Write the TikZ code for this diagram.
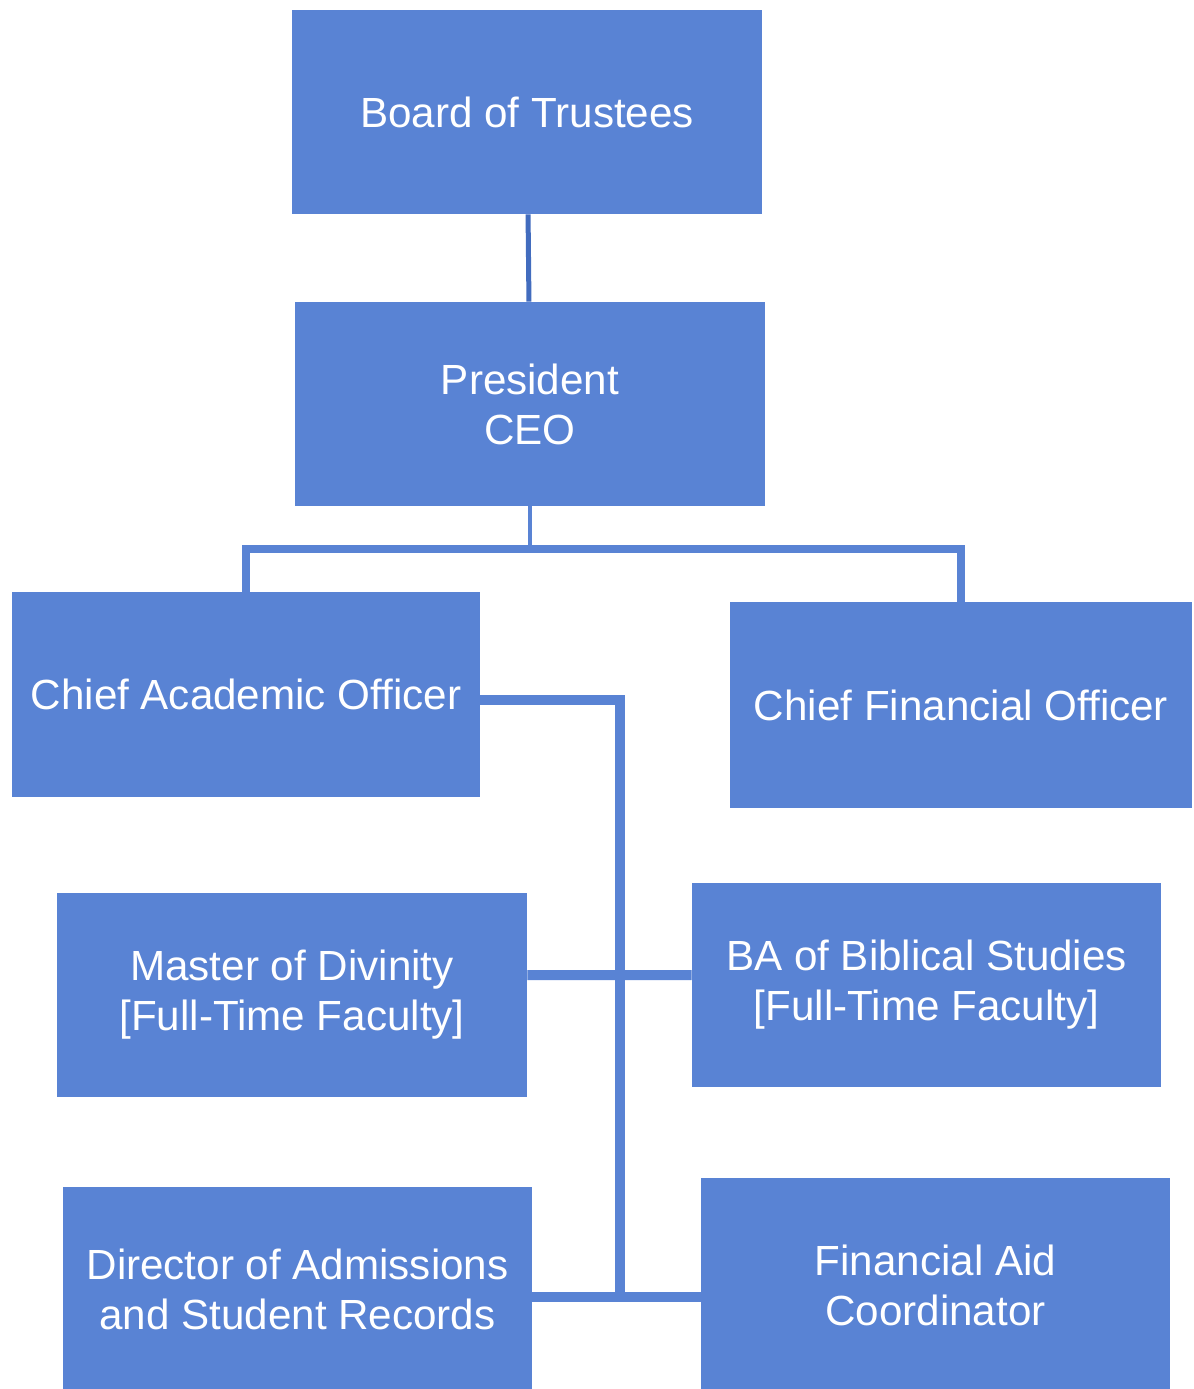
\documentclass[tikz,border=0pt]{standalone}
\usepackage{fontspec}
\setmainfont{Liberation Sans}
\usepackage{xcolor}
\usepackage{tikz}
\usetikzlibrary{positioning, calc}

\definecolor{boxblue}{RGB}{89,131,212}
\definecolor{lineblue}{RGB}{66,108,190}

\begin{document}
\begin{tikzpicture}[node distance=2cm,
  orgbox/.style={rectangle, fill=boxblue, text=white, text centered, align=center, inner sep=0pt, minimum width=9.4cm, minimum height=4.08cm, font=\fontsize{24}{28.5}\selectfont},
  tree/.style={draw=boxblue, line width=0.16cm},
  spine/.style={draw=boxblue, line width=0.2cm}]
\useasboundingbox (0,0) rectangle (23.86,-27.78);

\node (board)[orgbox] at (10.54,-2.24) {Board of Trustees};

\node (pres)[orgbox, below of = board, xshift=0.06cm, yshift=-3.84cm] {President\\CEO};

\node (cao)[orgbox, below of = pres, xshift=-5.68cm, yshift=-3.81cm, minimum width=9.36cm, minimum height=4.1cm] {Chief Academic Officer};
\node (cfo)[orgbox, right of = cao, xshift=12.3cm, yshift=-0.21cm, minimum width=9.24cm, minimum height=4.12cm] {Chief Financial Officer};

\node (mdiv)[orgbox, below of = cao, xshift=0.92cm, yshift=-4.01cm] {Master of Divinity\\{}[Full-Time Faculty]};
\node (ba)[orgbox, below of = cfo, xshift=-0.69cm, yshift=-3.6cm, minimum width=9.38cm] {BA of Biblical Studies\\{}[Full-Time Faculty]};

\node (dir)[orgbox, below of = mdiv, xshift=0.11cm, yshift=-3.88cm, minimum width=9.38cm] {Director of Admissions\\and Student Records};
\node (fac)[orgbox, below of = ba, xshift=0.18cm, yshift=-4.01cm, minimum width=9.38cm, minimum height=4.3cm] {Financial Aid\\Coordinator};

\coordinate (spineend) at (12.4,-25.94);

\draw[draw=lineblue, line width=0.1cm] (board) -- (pres);
\draw[draw=boxblue, line width=0.08cm] (pres.south) -- ++(0,-0.86) coordinate (bar);
\draw[tree] (cao.north) |- (bar) -| (cfo.north);

\draw[spine] ([yshift=-0.11cm]cao.east) -| (spineend);
\draw[spine] ([yshift=0.4cm]mdiv.east) -- ([yshift=0.2cm]ba.west);
\draw[spine] ([yshift=-0.16cm]dir.east) -- ([yshift=-0.23cm]fac.west);

\end{tikzpicture}
\end{document}
